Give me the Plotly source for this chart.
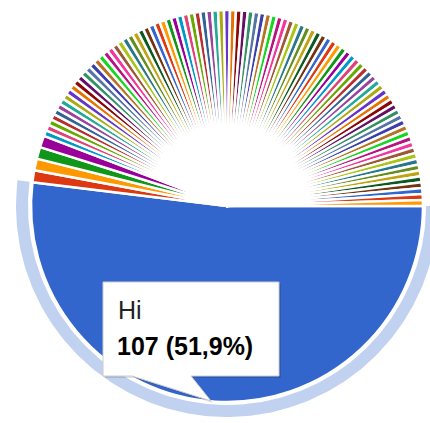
import numpy as np
import plotly.graph_objects as go

# --- data ---
main_label = "Hi"
main_value = 107
big_values = [2, 2, 2, 2]          # the four wider slices (red, orange, green, purple)
small_values = [
    1, 1, 1, 1, 1, 1, 1, 1, 1, 1,
    1, 1, 1, 1, 1, 1, 1, 1, 1, 1,
    1, 1, 1, 1, 1, 1, 1, 1, 1, 1,
    1, 1, 1, 1, 1, 1, 1, 1, 1, 1,
    1, 1, 1, 1, 1, 1, 1, 1, 1, 1,
    1, 1, 1, 1, 1, 1, 1, 1, 1, 1,
    1, 1, 1, 1, 1, 1, 1, 1, 1, 1,
    1, 1, 1, 1, 1, 1, 1, 1, 1, 1,
    1, 1, 1, 1, 1, 1, 1, 1, 1, 1,
    1,
]
values = [main_value] + big_values + small_values
labels = [main_label] + [f"Item {i}" for i in range(1, len(values))]

# google charts default palette
palette = [
    "#3366cc", "#dc3912", "#ff9900", "#109618", "#990099", "#0099c6",
    "#dd4477", "#66aa00", "#b82e2e", "#316395", "#994499", "#22aa99",
    "#aaaa11", "#6633cc", "#e67300", "#8b0707", "#651067", "#329262",
    "#5574a6", "#3b3eac", "#b77322", "#16d620", "#b91383", "#f4359e",
    "#9c5935", "#a9c413", "#2a778d", "#668d1c", "#bea413", "#0c5922",
    "#743411",
]
colors = [palette[i % len(palette)] for i in range(len(values))]

W, H = 430, 423
cx, cy, r = 227, 206, 196

fig = go.Figure()

# highlight ring around the hovered slice
share = values[0] / sum(values)
t = np.linspace(0, 2 * np.pi * share, 200)
r_in, r_out = 199, 211
ring_x = np.concatenate([cx + r_out * np.cos(t), cx + r_in * np.cos(t[::-1])])
ring_y = np.concatenate([cy + r_out * np.sin(t), cy + r_in * np.sin(t[::-1])])
fig.add_trace(go.Scatter(
    x=ring_x, y=ring_y, mode="lines", fill="toself",
    fillcolor="rgba(51,102,204,0.3)", line=dict(width=0),
    hoverinfo="skip", showlegend=False,
))

fig.add_trace(go.Pie(
    labels=labels,
    values=values,
    sort=False,
    direction="clockwise",
    rotation=90,
    marker=dict(colors=colors, line=dict(color="white", width=2.5)),
    textinfo="none",
    hoverinfo="skip",
    showlegend=False,
    domain=dict(x=[(cx - r) / W, (cx + r) / W],
                y=[(H - cy - r) / H, (H - cy + r) / H]),
))

# tooltip box with tail
box = "M 103 282 L 279 282 L 279 376 L 191 376 L 211 401 L 132 376 L 103 376 Z"
shadow = "M 105 284 L 281 284 L 281 378 L 193 378 L 213 403 L 134 378 L 105 378 Z"
fig.update_layout(shapes=[
    dict(type="path", path=shadow, xref="x", yref="y", layer="above",
         fillcolor="rgba(0,0,0,0.12)", line=dict(width=0)),
    dict(type="path", path=box, xref="x", yref="y", layer="above",
         fillcolor="white", line=dict(color="#cccccc", width=1)),
])

fig.add_annotation(x=116, y=310, xref="x", yref="y", text=main_label,
                   showarrow=False, xanchor="left", yanchor="middle",
                   font=dict(family="Liberation Sans, Arial", size=25, color="#222222"))
pct = f"{share * 100:.1f}".replace(".", ",")
fig.add_annotation(x=115, y=346, xref="x", yref="y",
                   text=f"<b>{main_value} ({pct}%)</b>",
                   showarrow=False, xanchor="left", yanchor="middle",
                   font=dict(family="Liberation Sans, Arial", size=25, color="#000000"))

fig.update_layout(
    width=W, height=H,
    margin=dict(l=0, r=0, t=0, b=0),
    paper_bgcolor="white", plot_bgcolor="white",
    xaxis=dict(range=[0, W], visible=False, fixedrange=True),
    yaxis=dict(range=[H, 0], visible=False, fixedrange=True),
)

# drop the default page margin so the figure sits at the window's corner
fig.write_html(
    "out.html",
    config={"displayModeBar": False},
    post_script="document.body.style.margin='0';document.body.style.overflow='hidden';",
)
